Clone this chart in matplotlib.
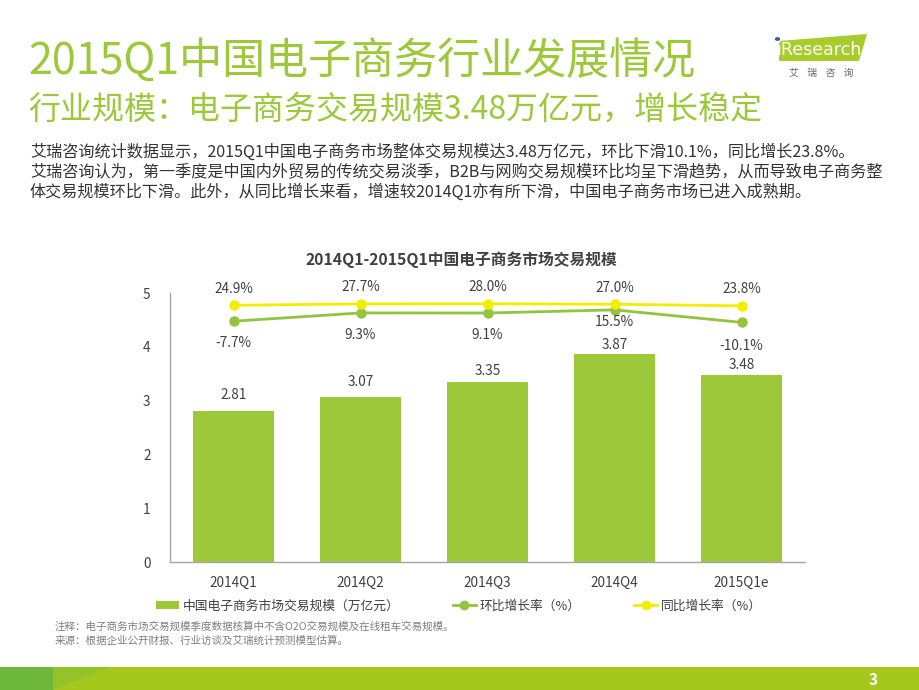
import matplotlib
matplotlib.use("Agg")
import matplotlib.pyplot as plt
from matplotlib.patches import Polygon, Rectangle, Circle
from matplotlib.lines import Line2D
from matplotlib.patches import Patch

plt.rcParams['font.family'] = ['Noto Sans CJK SC', 'DejaVu Sans']

categories = ['2014Q1', '2014Q2', '2014Q3', '2014Q4', '2015Q1e']
scale_values = [2.81, 3.07, 3.35, 3.87, 3.48]
qoq_growth = [-7.7, 9.3, 9.1, 15.5, -10.1]
yoy_growth = [24.9, 27.7, 28.0, 27.0, 23.8]
y_ticks = [0, 1, 2, 3, 4, 5]

series_names = ['中国电子商务市场交易规模（万亿元）', '环比增长率（%）', '同比增长率（%）']
main_title = '2015Q1中国电子商务行业发展情况'
sub_title = '行业规模：电子商务交易规模3.48万亿元，增长稳定'
body_lines = [
    '艾瑞咨询统计数据显示，2015Q1中国电子商务市场整体交易规模达3.48万亿元，环比下滑10.1%，同比增长23.8%。',
    '艾瑞咨询认为，第一季度是中国内外贸易的传统交易淡季，B2B与网购交易规模环比均呈下滑趋势，从而导致电子商务整',
    '体交易规模环比下滑。此外，从同比增长来看，增速较2014Q1亦有所下滑，中国电子商务市场已进入成熟期。',
]
chart_title = '2014Q1-2015Q1中国电子商务市场交易规模'
notes = ['注释：电子商务市场交易规模季度数据核算中不含O2O交易规模及在线租车交易规模。',
         '来源：根据企业公开财报、行业访谈及艾瑞统计预测模型估算。']

BAR = '#9DC83A'
GREEN_LINE = '#94C43E'
YELLOW = '#F2EE00'
TITLE_GREEN = '#9DC83A'
TXT = '#404040'

W, H = 920, 690
fig = plt.figure(figsize=(9.2, 6.9), dpi=100)

def fx(px):
    return px / W

def fy(py):
    return 1 - py / H

# Titles
fig.text(fx(28), fy(62), main_title, fontsize=31, color=TITLE_GREEN, va='center', ha='left')
fig.text(fx(28), fy(110), sub_title, fontsize=23, color=TITLE_GREEN, va='center', ha='left')
for i, line in enumerate(body_lines):
    fig.text(fx(30), fy(152 + 20 * i), line, fontsize=11.6, color='#333333', va='center', ha='left')

# Logo
logo = Polygon([[fx(779), fy(41)], [fx(867), fy(34)], [fx(859), fy(61)], [fx(779), fy(61)]],
               closed=True, transform=fig.transFigure, facecolor='#A8CC2A', edgecolor='none')
fig.patches.append(logo)
fig.text(fx(819), fy(50), 'iResearch', fontsize=12.5, color='white', ha='center', va='center',
         family='DejaVu Sans')
fig.patches.append(Circle((fx(777.5), fy(39)), 0.0028, transform=fig.transFigure,
                          facecolor='#2F5DA8', edgecolor='none'))
fig.text(fx(821), fy(73), '艾    瑞    咨    询', fontsize=7, color='#666666', ha='center', va='center')

# Bottom bar
fig.patches.append(Rectangle((0, 0), 1, fy(667), transform=fig.transFigure,
                             facecolor='#A6C81C', edgecolor='none'))
fig.patches.append(Polygon([[0, 0], [fx(53), 0], [fx(53), fy(667)], [0, fy(667)]], closed=True,
                           transform=fig.transFigure, facecolor='#6DB83A', edgecolor='none'))
fig.patches.append(Polygon([[fx(53), fy(667)], [fx(110), fy(667)], [fx(53), fy(690)]], closed=True,
                           transform=fig.transFigure, facecolor='#93C22A', edgecolor='none'))
fig.text(fx(873), fy(680), '3', fontsize=11, color='white', fontweight='bold', ha='center', va='center')

# Chart
ax = fig.add_axes([fx(170), fy(562), fx(805) - fx(170), fy(293) - fy(562)])
x = list(range(len(categories)))
bars = ax.bar(x, scale_values, width=0.64, color=BAR, zorder=2)
ax.set_xlim(-0.5, len(categories) - 0.5)
ax.set_ylim(0, 5)
ax.set_yticks(y_ticks)
ax.set_yticklabels([str(t) for t in y_ticks])
ax.set_xticks(x)
ax.set_xticklabels(categories)
ax.tick_params(axis='both', length=0, labelsize=9.8, colors=TXT)
ax.tick_params(axis='y', pad=14)
ax.tick_params(axis='x', pad=10)
for s in ['top', 'right']:
    ax.spines[s].set_visible(False)
for s in ['left', 'bottom']:
    ax.spines[s].set_color('#A6A6A6')
    ax.spines[s].set_linewidth(1)
bar_label_offsets = [6, 6, 3, 1, 2]
for xi, v, off in zip(x, scale_values, bar_label_offsets):
    ax.annotate(f'{v:.2f}', (xi, v), xytext=(0, off), textcoords='offset points',
                ha='center', va='bottom', fontsize=9.8, color=TXT)

ax2 = ax.twinx()
ax2.set_ylim(-500, 50)
ax2.axis('off')
ax2.plot(x, qoq_growth, color=GREEN_LINE, lw=2, marker='o', ms=6.5, zorder=3)
ax2.plot(x, yoy_growth, color=YELLOW, lw=2, marker='o', ms=6.5, zorder=4)
for xi, v in zip(x, yoy_growth):
    ax2.annotate(f'{v:.1f}%', (xi, v), xytext=(0, 7), textcoords='offset points',
                 ha='center', va='bottom', fontsize=9.8, color=TXT)
qoq_offsets = [-11, -11, -11, -4, -12]
for xi, v, off in zip(x, qoq_growth, qoq_offsets):
    ax2.annotate(f'{v:.1f}%', (xi, v), xytext=(0, off), textcoords='offset points',
                 ha='center', va='top', fontsize=9.8, color=TXT)

fig.text(fx(461), fy(260), chart_title, fontsize=11.3, fontweight='bold', color=TXT,
         ha='center', va='center')

handles = [Patch(facecolor=BAR, edgecolor='none'),
           Line2D([], [], color=GREEN_LINE, lw=2, marker='o', ms=6),
           Line2D([], [], color=YELLOW, lw=2, marker='o', ms=6)]
fig.legend(handles, series_names, loc='center left', bbox_to_anchor=(fx(144), fy(606)),
           ncol=3, frameon=False, fontsize=9.2, handlelength=1.8, handleheight=0.5,
           handletextpad=0.3, columnspacing=4.2, labelcolor=TXT)

for i, n in enumerate(notes):
    fig.text(fx(55), fy(626 + 15 * i), n, fontsize=7.6, color='#808080', ha='left', va='center')

fig.savefig('out.png', dpi=100)
